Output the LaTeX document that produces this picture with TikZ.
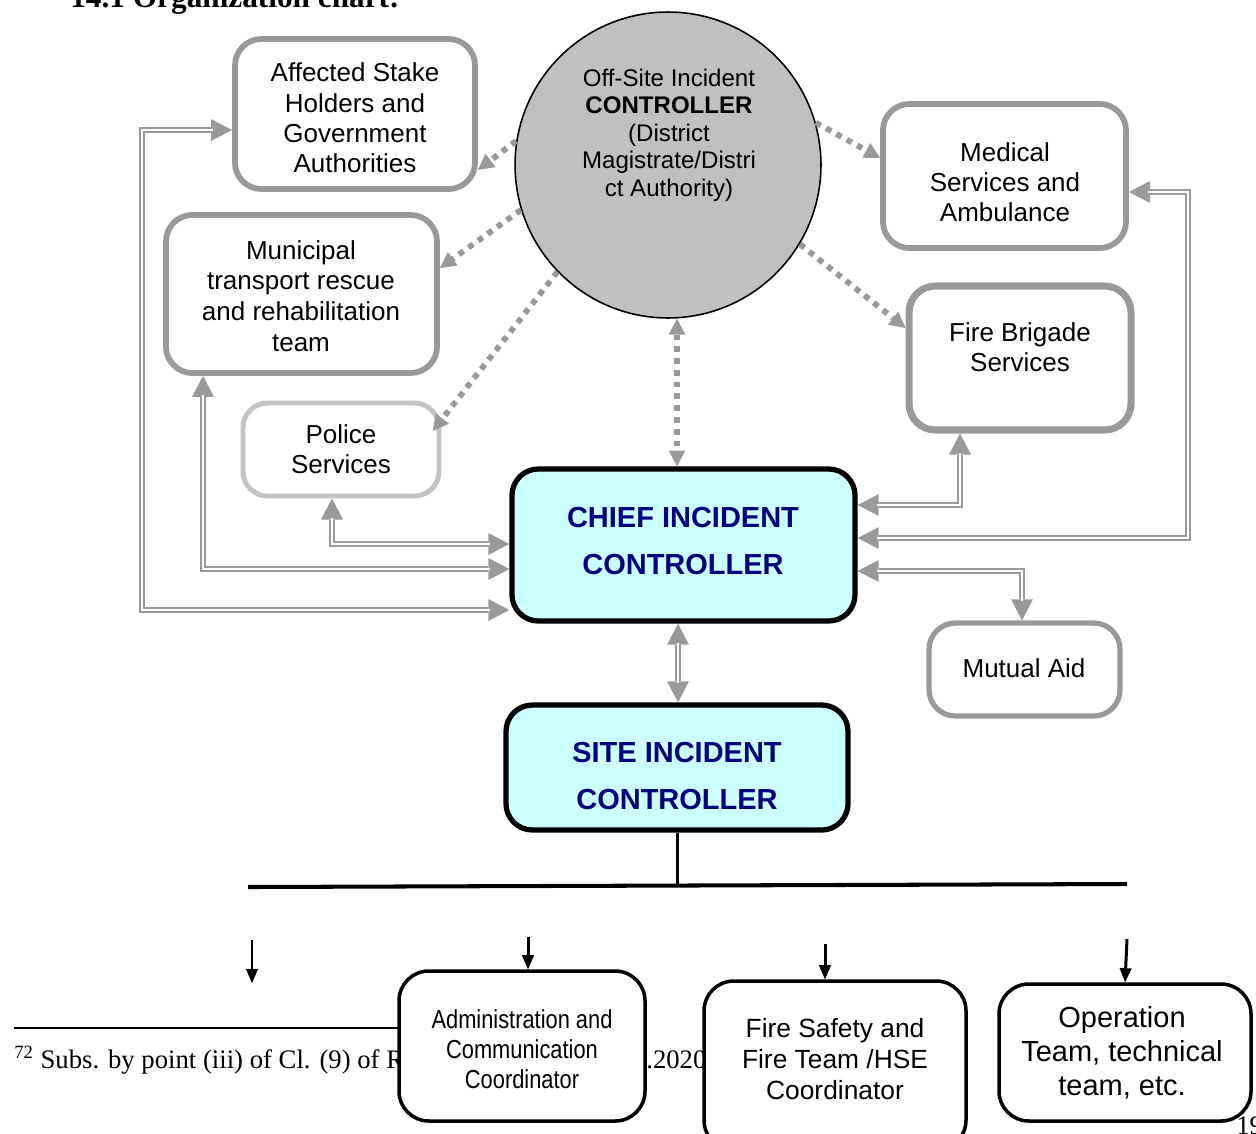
\documentclass[tikz,border=0pt]{standalone}
\usepackage{fontspec}
\setmainfont{Liberation Serif}
\setsansfont{Liberation Sans}
\newfontfamily\arial{Liberation Sans}
\newfontfamily\arialn[FakeStretch=0.84]{Liberation Sans}
\usetikzlibrary{arrows.meta,fit,calc}
\definecolor{cgray}{RGB}{153,153,153}
\definecolor{lgray}{RGB}{195,195,195}
\definecolor{cfill}{RGB}{204,255,255}
\definecolor{navy}{RGB}{0,0,128}
\definecolor{circfill}{RGB}{192,192,192}
\begin{document}
\begin{tikzpicture}[x=0.02cm,y=-0.02cm,
  gbox/.style={draw=cgray, line width=3.3pt, rounded corners=15pt, fill=white, inner sep=0pt},
  pbox/.style={draw=lgray, line width=2.8pt, rounded corners=14pt, fill=white, inner sep=0pt},
  cbox/.style={draw=black, line width=3pt, rounded corners=15pt, fill=cfill, inner sep=0pt},
  bbox/.style={draw=black, line width=2pt, rounded corners=17pt, fill=white, inner sep=0pt},
  tx/.style={inner sep=0pt, align=center, font=\arial\fontsize{14.8}{17.2}\selectfont},
  ctx/.style={inner sep=0pt, align=center, font=\arial\fontsize{13.7}{15.6}\selectfont},
  btx/.style={inner sep=0pt, align=center, text=navy, font=\arial\bfseries\fontsize{16.5}{26.5}\selectfont},
  dbl/.style={draw=cgray, line width=3.3pt,
     {Triangle[length=12pt,width=12.5pt,line width=0pt]}-{Triangle[length=12pt,width=12.5pt,line width=0pt]},
     postaction={draw=white, line width=1.1pt, arrows=-, shorten <=11pt, shorten >=11pt}},
  dotl/.style={draw=cgray, line width=3.3pt, dash pattern=on 3.3pt off 3.4pt,
     -{Triangle[length=9pt,width=9.5pt,line width=0pt]}},
  dotb/.style={dotl, {Triangle[length=9pt,width=9.5pt,line width=0pt]}-{Triangle[length=9pt,width=9.5pt,line width=0pt]}},
  blkarr/.style={draw=black, line width=1.7pt, -{Triangle[length=8pt,width=7pt,line width=0pt]}},
  fntx/.style={anchor=base west, inner sep=0pt, font=\fontsize{15.2}{17.5}\selectfont}
]
\useasboundingbox (0,0) rectangle (1256,1133);
\clip (0,0) rectangle (1256,1133);

% page artefacts
\node[anchor=base west, inner sep=0pt, font=\bfseries\fontsize{17.8}{20}\selectfont] (title) at (70,7) {14.1 Organization chart:};
\coordinate (fnL) at (14,1028);
\coordinate (fnR) at (398,1028);
\draw[line width=0.6pt] (fnL) -- (fnR);
\node[fntx] (fn) at (14,1068) {\textsuperscript{72} Subs. by point (iii) of Cl. (9) of R};
\node[fntx] (fn2) at (646,1068) {.2020};
\node[fntx] (pg) at (1236,1134) {19};

% boxes
\node[gbox, fit={(235,39) (475,189)}] (aff) {};
\node[gbox, fit={(166,215) (437,373)}] (mun) {};
\node[gbox, fit={(883,104) (1126,248)}] (med) {};
\node[gbox, line width=4pt, fit={(909,286) (1131,430)}] (fb) {};
\node[pbox, fit={(243,403) (439,496)}] (pol) {};
\node[cbox, fit={(512,469) (855,621)}] (chief) {};
\node[cbox, fit={(506,705) (848,830)}] (site) {};
\node[gbox, line width=3pt, fit={(929,623) (1120,716)}] (mut) {};
\node[bbox, fit={(399,971) (645,1121)}] (adm) {};
\node[bbox, fit={(704,981) (966,1150)}] (fs) {};
\node[bbox, fit={(999,984) (1251,1121)}] (op) {};
\node[circle, draw=black, line width=0.9pt, fill=circfill, minimum size=6.12cm, inner sep=0pt] (off) at (668,165) {};

% texts
\node[tx] (affT) at (355,118) {Affected Stake\\Holders and\\Government\\Authorities};
\node[ctx] (offT) at (669,135) {Off-Site Incident\\\textbf{CONTROLLER}\\(District\\Magistrate/Distri\\ct Authority)};
\node[tx] (medT) at (1005,182) {Medical\\Services and\\Ambulance};
\node[tx, font=\arial\fontsize{14.8}{17.5}\selectfont] (munT) at (301,296) {Municipal\\transport rescue\\and rehabilitation\\team};
\node[tx] (fbT) at (1020,347) {Fire Brigade\\Services};
\node[tx] (polT) at (341,449) {Police\\Services};
\node[btx] (chiefT) at (683,541) {CHIEF INCIDENT\\CONTROLLER};
\node[btx] (siteT) at (677,776) {SITE INCIDENT\\CONTROLLER};
\node[tx] (mutT) at (1024,668) {Mutual Aid};
\node[tx, font=\arialn\fontsize{14.8}{17.2}\selectfont] (admT) at (522,1049) {Administration and\\Communication\\Coordinator};
\node[tx, font=\arial\fontsize{15}{17.4}\selectfont] (fsT) at (835,1059) {Fire Safety and\\Fire Team /HSE\\Coordinator};
\node[tx, font=\arial\fontsize{16.5}{19.3}\selectfont] (opT) at (1122,1053) {Operation\\Team, technical\\team, etc.};

% dotted connectors from the off-site controller
\draw[dotl] (off.171) -- (aff.east |- 0,170);
\draw[dotl] (off.197) -- (mun.east |- 0,268);
\draw[dotl] (off.224) -- ([xshift=-5pt]pol.east |- 0,431);
\draw[dotb] (off.south -| 677,0) -- (chief.north -| 677,0);
\draw[dotl] (off.16) -- (med.west |- 0,158);
\draw[dotl] (off.-31) -- (fb.west |- 0,328);

% double connectors
\draw[dbl] (chief.south -| 678,0) -- (site.north -| 678,0);
\draw[dbl] (pol.south -| 332,0) |- (chief.west |- 0,544);
\draw[dbl] (mun.south -| 203,0) |- (chief.west |- 0,569);
\draw[dbl] (aff.west |- 0,130) -| (142,370) |- (chief.west |- 0,610);
\draw[dbl] (chief.east |- 0,505) -| (fb.south -| 960,0);
\draw[dbl] (chief.east |- 0,538) -| (1188,365) |- (med.east |- 0,192);
\draw[dbl] (chief.east |- 0,571) -| (mut.north -| 1022,0);

% site incident controller tree
\coordinate (hM) at (677,886);
\coordinate (hL) at (248,887);
\coordinate (hR) at (1127,884);
\draw[line width=1.7pt] (site.south -| 677,0) -- (hM);
\draw[line width=2.3pt] (hL) -- (hR);
\coordinate (a1s) at (252,940);
\coordinate (a1e) at (252,983);
\coordinate (a2s) at (528,937);
\coordinate (a3s) at (825,944);
\coordinate (a4s) at (1127,939);
\draw[blkarr] (a1s) -- (a1e);
\draw[blkarr] (a2s) -- (adm.north -| 528,0);
\draw[blkarr] (a3s) -- (fs.north -| 825,0);
\draw[blkarr] (a4s) -- (op.north -| 1125,0);
\end{tikzpicture}
\end{document}
